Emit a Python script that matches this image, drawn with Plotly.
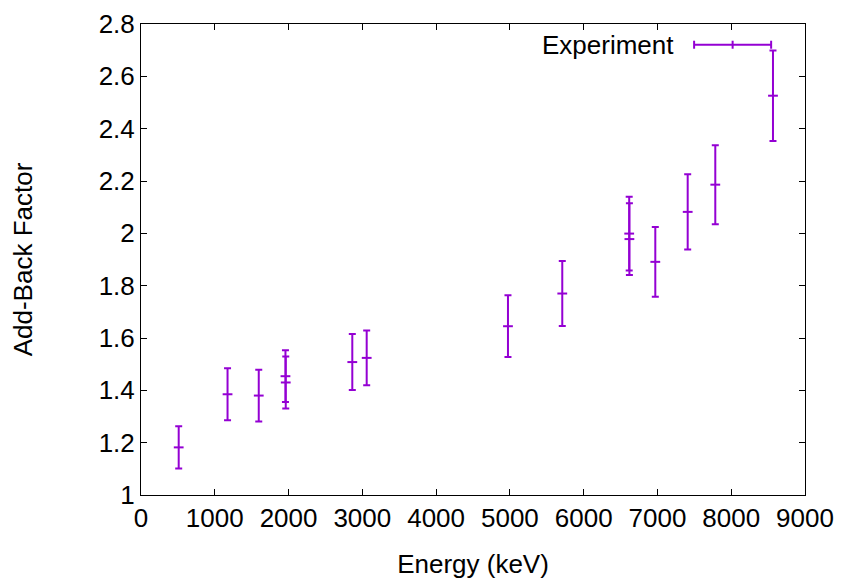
import plotly.graph_objects as go

# Add-back factor vs gamma energy
energy_kev = [511, 1173, 1596, 1958, 1962, 2864, 3059, 4974, 5710, 6617, 6620, 6971, 7410, 7784, 8566]
add_back = [1.182, 1.385, 1.380, 1.454, 1.430, 1.508, 1.524, 1.645, 1.770, 1.999, 1.978, 1.891, 2.082, 2.186, 2.526]
add_back_err = [0.081, 0.099, 0.099, 0.099, 0.099, 0.107, 0.105, 0.118, 0.124, 0.141, 0.137, 0.133, 0.144, 0.151, 0.173]

x_ticks = list(range(0, 9001, 1000))
y_ticks = [1, 1.2, 1.4, 1.6, 1.8, 2, 2.2, 2.4, 2.6, 2.8]

PURPLE = "#9400d3"
FONT = "Liberation Sans, Arial, sans-serif"
FSIZE = 26

fig = go.Figure()
fig.add_trace(
    go.Scatter(
        x=energy_kev,
        y=add_back,
        mode="markers",
        name="Experiment",
        marker=dict(symbol="line-ew", size=7, line=dict(color=PURPLE, width=2), color=PURPLE),
        error_y=dict(type="data", array=add_back_err, color=PURPLE, thickness=2, width=3.5),
        showlegend=False,
    )
)

axis_common = dict(
    showline=True,
    linecolor="black",
    linewidth=1,
    mirror="ticks",
    ticks="inside",
    ticklen=6,
    tickcolor="black",
    showgrid=False,
    zeroline=False,
    automargin=False,
    tickfont=dict(family=FONT, size=FSIZE, color="black"),
)

fig.update_xaxes(
    range=[0, 9000],
    tickvals=x_ticks,
    title=dict(text="Energy (keV)", font=dict(family=FONT, size=FSIZE, color="black"), standoff=22),
    **axis_common,
)
fig.update_yaxes(
    range=[1, 2.8],
    tickvals=y_ticks,
    title=dict(text="Add-Back Factor", font=dict(family=FONT, size=FSIZE, color="black"), standoff=58),
    **axis_common,
)

# gnuplot-style key in the top-right corner
ky = 0.956
kx0, kx1 = 0.833, 0.949
cap = 0.0085
shapes = [dict(type="line", xref="paper", yref="paper", x0=kx0, x1=kx1, y0=ky, y1=ky,
               line=dict(color=PURPLE, width=2))]
for kx in (kx0, (kx0 + kx1) / 2, kx1):
    shapes.append(dict(type="line", xref="paper", yref="paper", x0=kx, x1=kx, y0=ky - cap, y1=ky + cap,
                       line=dict(color=PURPLE, width=2)))

fig.update_layout(
    width=842,
    height=581,
    margin=dict(l=133, r=45, t=16, b=94),
    plot_bgcolor="white",
    paper_bgcolor="white",
    shapes=shapes,
    annotations=[
        dict(text="Experiment", xref="paper", yref="paper", x=0.805, y=ky, xanchor="right", yanchor="middle",
             showarrow=False, font=dict(family=FONT, size=FSIZE, color="black"))
    ],
)

fig.write_html("out.html")
